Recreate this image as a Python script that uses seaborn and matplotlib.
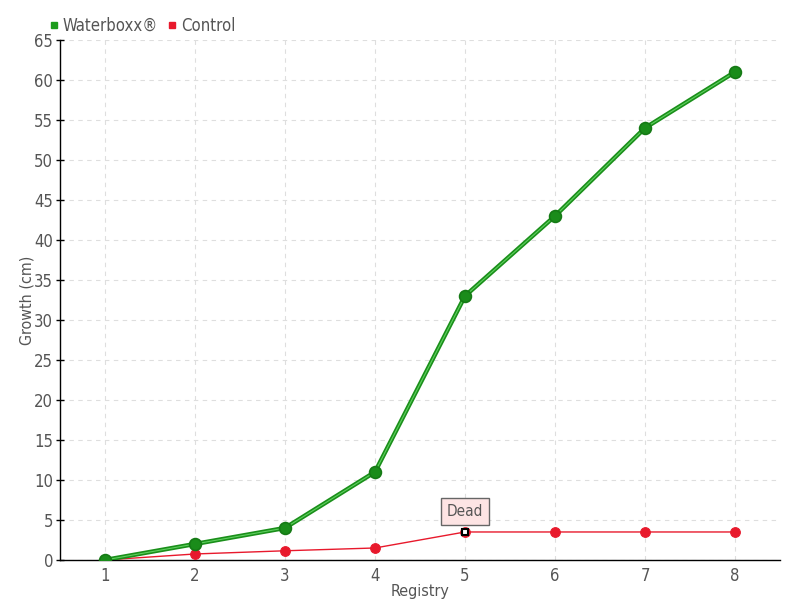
import pandas as pd
import seaborn as sns
import matplotlib.pyplot as plt
from matplotlib.lines import Line2D

registry = [1, 2, 3, 4, 5, 6, 7, 8]
waterboxx = [0, 2, 4, 11, 33, 43, 54, 61]
control = [0, 0.75, 1.15, 1.5, 3.5, 3.5, 3.5, 3.5]
dead_at = 5

df = pd.DataFrame({'Registry': registry, 'Waterboxx': waterboxx, 'Control': control})

sns.set_style('white')
plt.rcParams['font.family'] = ['DejaVu Sans']
plt.rcParams['font.stretch'] = 'condensed'

fig = plt.figure(figsize=(8, 6), dpi=100)
ax = fig.add_axes([0.075, 0.0667, 0.9, 0.8667])

green = '#1c9c1c'
red = '#e8192c'
txt = '#555555'

# control line
sns.lineplot(data=df, x='Registry', y='Control', ax=ax, color=red, linewidth=1,
             marker='o', markersize=7, markeredgecolor=red, zorder=3)
# waterboxx line: dark outer + light inner stroke
sns.lineplot(data=df, x='Registry', y='Waterboxx', ax=ax, color='#1a8f1a', linewidth=3.2,
             zorder=4)
sns.lineplot(data=df, x='Registry', y='Waterboxx', ax=ax, color='#5fd05f', linewidth=0.8,
             marker='o', markersize=8.5, markerfacecolor='#1a8c1a', markeredgecolor='#157a15',
             markeredgewidth=1.2, zorder=5)

# dead marker
ax.plot([dead_at], [control[registry.index(dead_at)]], marker='s', markersize=5,
        markerfacecolor='white', markeredgecolor='black', markeredgewidth=1.5, zorder=6)
ax.annotate('Dead', xy=(dead_at, control[registry.index(dead_at)]), xytext=(0, 15),
            textcoords='offset points', ha='center', va='center', fontsize=11, color=txt,
            bbox=dict(boxstyle='square,pad=0.4', facecolor='#fde4e4', edgecolor='#666666', lw=1),
            zorder=7)

ax.set_xlim(0.5, 8.5)
ax.set_ylim(0, 65)
ax.set_xticks(registry)
ax.set_yticks(range(0, 66, 5))
ax.grid(True, linestyle=(0, (4, 4)), color='#dedede', linewidth=0.8)
ax.set_axisbelow(True)

for s in ['top', 'right']:
    ax.spines[s].set_visible(False)
for s in ['left', 'bottom']:
    ax.spines[s].set_color('black')
    ax.spines[s].set_linewidth(1)

ax.tick_params(axis='y', direction='inout', length=6, width=1, color='black',
               labelsize=12, labelcolor=txt, left=True, pad=2)
ax.tick_params(axis='x', length=0, labelsize=12, labelcolor=txt, pad=5)
ax.set_xlabel('Registry', fontsize=11.5, color=txt, labelpad=-1)
ax.set_ylabel('Growth (cm)', fontsize=11.5, color=txt, labelpad=0)

handles = [Line2D([], [], linestyle='none', marker='s', markersize=4.5, color=green),
           Line2D([], [], linestyle='none', marker='s', markersize=4.5, color=red)]
fig.legend(handles, ['Waterboxx®', 'Control'], loc='upper left', bbox_to_anchor=(0.038, 0.997),
           ncol=2, frameon=False, fontsize=12, labelcolor=txt, handletextpad=0.0,
           columnspacing=0.4, handlelength=1)

fig.savefig('out.png', dpi=100)
